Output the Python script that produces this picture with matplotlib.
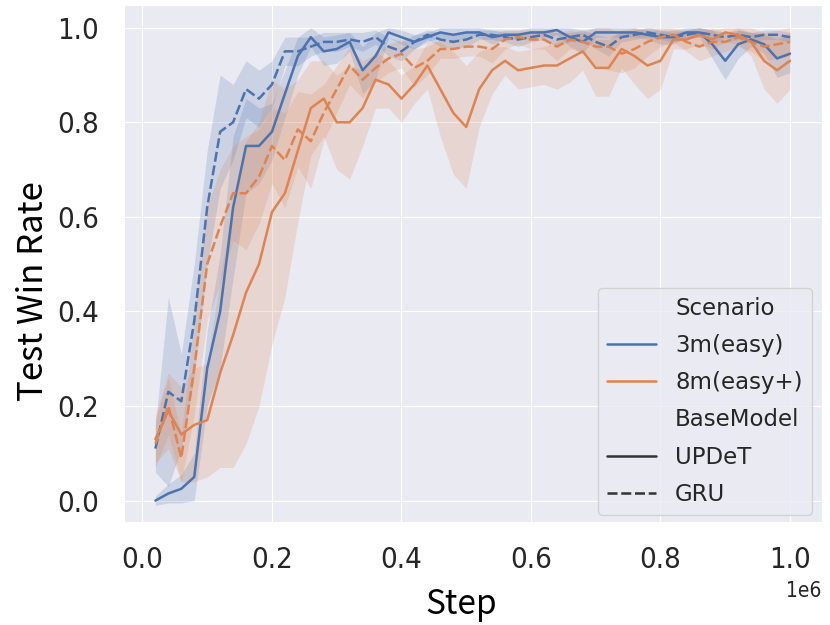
import numpy as np
import matplotlib
matplotlib.use("Agg")
import matplotlib.pyplot as plt
from matplotlib.lines import Line2D
import seaborn as sns

# training steps (x 1e6)
steps = np.arange(1, 51) * 0.02 * 1e6

# 3m(easy), UPDeT
m3_updet = [0.00, 0.015, 0.025, 0.05, 0.28, 0.40, 0.62, 0.75, 0.75, 0.78,
            0.86, 0.94, 0.98, 0.95, 0.955, 0.97, 0.91, 0.94, 0.99, 0.98,
            0.97, 0.98, 0.99, 0.985, 0.99, 0.99, 0.98, 0.985, 0.985, 0.99,
            0.99, 0.995, 0.98, 0.97, 0.99, 0.99, 0.99, 0.99, 0.985, 0.98,
            0.98, 0.99, 0.99, 0.965, 0.93, 0.965, 0.975, 0.965, 0.935, 0.945]
m3_updet_ci = [0.01, 0.02, 0.03, 0.05, 0.08, 0.12, 0.15, 0.10, 0.08, 0.06,
               0.05, 0.04, 0.02, 0.03, 0.03, 0.02, 0.05, 0.05, 0.01, 0.015,
               0.015, 0.01, 0.01, 0.015, 0.01, 0.01, 0.015, 0.01, 0.01, 0.01,
               0.01, 0.01, 0.02, 0.025, 0.01, 0.01, 0.01, 0.01, 0.01, 0.015,
               0.015, 0.01, 0.01, 0.03, 0.04, 0.03, 0.015, 0.02, 0.04, 0.04]

# 3m(easy), GRU
m3_gru = [0.11, 0.23, 0.21, 0.38, 0.62, 0.78, 0.80, 0.87, 0.85, 0.88,
          0.95, 0.95, 0.96, 0.97, 0.97, 0.975, 0.97, 0.98, 0.96, 0.95,
          0.97, 0.985, 0.975, 0.97, 0.975, 0.985, 0.985, 0.98, 0.975, 0.98,
          0.985, 0.975, 0.98, 0.985, 0.97, 0.96, 0.98, 0.985, 0.99, 0.985,
          0.98, 0.985, 0.99, 0.985, 0.98, 0.985, 0.98, 0.985, 0.985, 0.98]
m3_gru_ci = [0.05, 0.20, 0.10, 0.12, 0.12, 0.12, 0.08, 0.06, 0.06, 0.05,
             0.03, 0.03, 0.02, 0.02, 0.02, 0.015, 0.02, 0.015, 0.02, 0.02,
             0.015, 0.01, 0.015, 0.015, 0.015, 0.01, 0.01, 0.01, 0.015, 0.01,
             0.01, 0.015, 0.01, 0.01, 0.015, 0.02, 0.01, 0.01, 0.01, 0.01,
             0.01, 0.01, 0.01, 0.01, 0.01, 0.01, 0.01, 0.01, 0.01, 0.01]

# 8m(easy+), UPDeT
m8_updet = [0.13, 0.19, 0.14, 0.16, 0.17, 0.27, 0.35, 0.44, 0.50, 0.61,
            0.65, 0.74, 0.83, 0.85, 0.80, 0.80, 0.83, 0.89, 0.88, 0.85,
            0.88, 0.92, 0.87, 0.82, 0.79, 0.87, 0.91, 0.93, 0.91, 0.915,
            0.92, 0.92, 0.935, 0.95, 0.915, 0.915, 0.955, 0.94, 0.92, 0.93,
            0.975, 0.975, 0.985, 0.975, 0.99, 0.985, 0.97, 0.93, 0.91, 0.93]
m8_updet_ci = [0.05, 0.08, 0.10, 0.12, 0.12, 0.20, 0.28, 0.32, 0.30, 0.28,
               0.22, 0.15, 0.10, 0.08, 0.10, 0.12, 0.08, 0.06, 0.05, 0.05,
               0.04, 0.05, 0.10, 0.13, 0.13, 0.08, 0.05, 0.03, 0.04, 0.04,
               0.04, 0.05, 0.05, 0.04, 0.06, 0.06, 0.04, 0.06, 0.07, 0.06,
               0.02, 0.02, 0.02, 0.02, 0.02, 0.02, 0.03, 0.06, 0.07, 0.06]

# 8m(easy+), GRU
m8_gru = [0.12, 0.20, 0.09, 0.28, 0.50, 0.58, 0.65, 0.65, 0.685, 0.75,
          0.72, 0.785, 0.76, 0.82, 0.87, 0.92, 0.89, 0.915, 0.935, 0.945,
          0.915, 0.93, 0.955, 0.955, 0.96, 0.96, 0.955, 0.975, 0.98, 0.975,
          0.975, 0.96, 0.975, 0.97, 0.96, 0.96, 0.945, 0.955, 0.97, 0.98,
          0.985, 0.97, 0.96, 0.97, 0.97, 0.98, 0.97, 0.96, 0.965, 0.97]
m8_gru_ci = [0.05, 0.06, 0.05, 0.10, 0.12, 0.12, 0.10, 0.12, 0.10, 0.08,
             0.10, 0.08, 0.10, 0.06, 0.05, 0.04, 0.04, 0.03, 0.03, 0.03,
             0.04, 0.03, 0.02, 0.02, 0.02, 0.02, 0.03, 0.02, 0.015, 0.02,
             0.02, 0.03, 0.02, 0.02, 0.04, 0.05, 0.04, 0.04, 0.03, 0.02,
             0.015, 0.02, 0.03, 0.03, 0.02, 0.02, 0.02, 0.03, 0.03, 0.03]

scenarios = ["3m(easy)", "8m(easy+)"]
models = ["UPDeT", "GRU"]
tick_labels = ["0.0", "0.2", "0.4", "0.6", "0.8", "1.0"]

sns.set_style("darkgrid")
plt.rcParams["font.family"] = ["DejaVu Sans"]

blue, orange = sns.color_palette("deep")[0], sns.color_palette("deep")[1]

fig = plt.figure(figsize=(8.3, 6.25), dpi=100)
ax = fig.add_axes([0.149, 0.165, 0.841, 0.827])

series = [
    (m3_updet, m3_updet_ci, blue, "-"),
    (m3_gru, m3_gru_ci, blue, "--"),
    (m8_updet, m8_updet_ci, orange, "-"),
    (m8_gru, m8_gru_ci, orange, "--"),
]
for mean, ci, c, ls in series:
    mean = np.array(mean)
    ci = np.array(ci)
    lo = mean - ci
    hi = np.minimum(mean + ci, 1.0)
    ax.fill_between(steps, lo, hi, color=c, alpha=0.2, linewidth=0)
for mean, ci, c, ls in series:
    line, = ax.plot(steps, mean, color=c, lw=1.8)
    if ls == "--":
        line.set_dashes((4, 1.5))

ax.set_xlim(-0.029e6, 1.049e6)
ax.set_ylim(-0.045, 1.048)
ax.set_xticks(np.arange(0, 1.01, 0.2) * 1e6)
ax.set_yticks(np.arange(0, 1.01, 0.2))

# ticks look like a narrow DejaVu in the original
ax.set_xticklabels(tick_labels, family="DejaVu Sans", stretch="condensed", fontsize=21)
ax.set_yticklabels(tick_labels, family="DejaVu Sans", stretch="condensed", fontsize=21)
ax.tick_params(axis="x", colors="#262626", pad=14)
ax.tick_params(axis="y", colors="#262626", pad=14.5)

label_font = ["Noto Sans CJK SC", "DejaVu Sans"]
ax.set_xlabel("Step", family=label_font, fontsize=24, color="black", labelpad=9)
ax.set_ylabel("Test Win Rate", family=label_font, fontsize=25, color="black", labelpad=4)
ax.yaxis.label.set_y(0.447)
ax.xaxis.label.set_x(0.484)
fig.text(0.990, 1 - 597 / 625, "1e6", family="DejaVu Sans", stretch="condensed",
         fontsize=15, color="#262626", ha="right", va="baseline")

blank = Line2D([], [], color="none")
handles = [blank,
           Line2D([], [], color=blue, lw=1.8),
           Line2D([], [], color=orange, lw=1.8),
           blank,
           Line2D([], [], color="#333333", lw=1.8),
           Line2D([], [], color="#333333", lw=1.8, dashes=(4, 1.5))]
labels = ["Scenario"] + scenarios + ["BaseModel"] + models
ax.legend(handles, labels, loc="lower right", bbox_to_anchor=(0.9857, 0.0135),
          borderaxespad=0, fontsize=16.5, handlelength=2.1, handletextpad=0.85,
          labelspacing=0.62, framealpha=0.8)

fig.savefig("out.png", dpi=100)
